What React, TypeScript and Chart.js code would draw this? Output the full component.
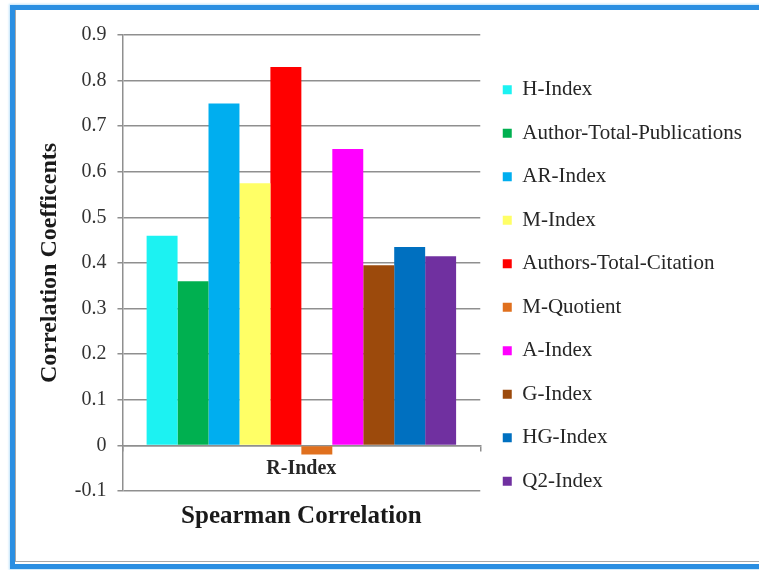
import React, { useEffect, useRef } from "react";
import { Chart, registerables } from "chart.js";

Chart.register(...registerables);

const categories = ["R-Index"];
const seriesNames = [
  "H-Index",
  "Author-Total-Publications",
  "AR-Index",
  "M-Index",
  "Authors-Total-Citation",
  "M-Quotient",
  "A-Index",
  "G-Index",
  "HG-Index",
  "Q2-Index",
];
const seriesValues = [0.46, 0.36, 0.75, 0.575, 0.83, -0.02, 0.65, 0.395, 0.435, 0.415];
const seriesColors = [
  "#1CF2F2",
  "#00B050",
  "#00AEEF",
  "#FFFF66",
  "#FF0000",
  "#E0701E",
  "#FF00FF",
  "#9C4A0C",
  "#0070C0",
  "#7030A0",
];
const yMin = -0.1;
const yMax = 0.9;
const yStep = 0.1;
const yTitle = "Correlation Coefficents";
const xTitle = "Spearman Correlation";

const SERIF = "'Liberation Serif', 'Times New Roman', serif";

export default function App() {
  const ref = useRef<HTMLCanvasElement | null>(null);

  useEffect(() => {
    if (!ref.current) return;
    const chart = new Chart(ref.current, {
      type: "bar",
      data: {
        labels: categories,
        datasets: seriesNames.map((name, i) => ({
          label: name,
          data: [seriesValues[i]],
          backgroundColor: seriesColors[i],
          borderWidth: 0,
          categoryPercentage: 0.865,
          barPercentage: 1.0,
        })),
      },
      options: {
        responsive: false,
        animation: false,
        layout: { padding: { left: 31, top: 35, right: 7, bottom: 34 } },
        plugins: {
          tooltip: { enabled: false },
          legend: {
            position: "right",
            maxWidth: 330,
            labels: {
              font: { family: SERIF, size: 21 },
              color: "#262626",
              boxWidth: 9,
              boxHeight: 9,
              padding: 22.5,
            },
          },
        },
        scales: {
          x: {
            position: { y: 0 },
            grid: {
              display: true,
              drawOnChartArea: false,
              drawTicks: true,
              tickLength: 5,
              color: "#8f8f8f",
              lineWidth: 1.5,
              offset: true,
            },
            border: { display: true, color: "#8f8f8f", width: 1.5 },
            ticks: {
              font: { family: SERIF, size: 20, weight: "bold" },
              color: "#262626",
              padding: 6,
            },
          },
          x2: {
            type: "category",
            position: "bottom",
            grid: { display: false },
            border: { display: false },
            ticks: { display: false },
            title: {
              display: true,
              text: xTitle,
              font: { family: SERIF, size: 25, weight: "bold" },
              color: "#1a1a1a",
              padding: { top: 3, bottom: 4 },
            },
          },
          y: {
            min: yMin,
            max: yMax,
            ticks: {
              stepSize: yStep,
              font: { family: SERIF, size: 20 },
              color: "#333333",
              padding: 11,
              callback: (v: any) => {
                const n = Math.round(Number(v) * 10) / 10;
                return n === 0 ? "0" : String(n);
              },
            },
            grid: {
              color: "#8f8f8f",
              lineWidth: 1.5,
              tickLength: 5,
            },
            border: { display: true, color: "#8f8f8f", width: 1.5 },
            title: {
              display: true,
              text: yTitle,
              font: { family: SERIF, size: 24, weight: "bold" },
              color: "#1a1a1a",
              padding: { top: 4, bottom: 0 },
            },
          },
        },
      },
    });
    return () => chart.destroy();
  }, []);

  return (
    <div
      style={{
        position: "fixed",
        left: 0,
        top: 0,
        width: 759,
        height: 570,
        background: "#ffffff",
        overflow: "hidden",
      }}
    >
      <canvas ref={ref} width={759} height={570} style={{ position: "absolute", left: 0, top: 0 }} />
      <div
        style={{
          position: "absolute",
          left: 10,
          top: 5,
          width: 770,
          height: 564,
          boxSizing: "border-box",
          border: "5px solid #2B8FE2",
          boxShadow: "0 0 2px 1px #bfe3fb",
          pointerEvents: "none",
        }}
      />
      <div
        style={{
          position: "absolute",
          left: 15,
          top: 10,
          width: 760,
          height: 552,
          boxSizing: "border-box",
          borderLeft: "1px solid #a8a8a8",
          borderBottom: "1px solid #a8a8a8",
          pointerEvents: "none",
        }}
      />
    </div>
  );
}
